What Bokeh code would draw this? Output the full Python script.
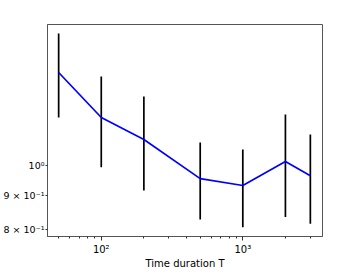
from bokeh.plotting import figure
from bokeh.models import Range1d, FixedTicker
from bokeh.embed import file_html
from bokeh.resources import INLINE

T = [50, 100, 200, 500, 1000, 2000, 3000]
mean = [1.388, 1.185, 1.097, 0.956, 0.933, 1.015, 0.966]
lower = [1.185, 0.995, 0.917, 0.828, 0.806, 0.835, 0.816]
upper = [1.592, 1.369, 1.276, 1.085, 1.059, 1.197, 1.116]

x_major = [100, 1000]
x_minor = [50, 60, 70, 80, 90, 200, 300, 400, 500, 600, 700, 800, 900, 2000, 3000]
x_labels = {100: "10²", 1000: "10³"}
y_ticks = [0.8, 0.9, 1.0]
y_labels = {0.8: "8 × 10⁻¹", 0.9: "9 × 10⁻¹", 1.0: "10⁰"}
xlabel = "Time duration T"

p = figure(width=346, height=277, x_axis_type="log", y_axis_type="log",
           x_range=Range1d(41.7, 3656), y_range=Range1d(0.78, 1.643),
           output_backend="svg", toolbar_location=None,
           min_border_left=46, min_border_right=24, min_border_top=24, min_border_bottom=41)
p.grid.visible = False
p.outline_line_color = "#555555"
p.outline_line_width = 1

p.segment(x0=T, y0=lower, x1=T, y1=upper, line_color="black", line_width=1.7)
p.line(T, mean, line_color="#0000ff", line_width=1.7)

p.xaxis.ticker = FixedTicker(ticks=x_major, minor_ticks=x_minor)
p.xaxis.major_label_overrides = x_labels
p.yaxis.ticker = FixedTicker(ticks=y_ticks, minor_ticks=[])
p.yaxis.major_label_overrides = y_labels
p.xaxis.axis_label = xlabel

for ax in (p.xaxis[0], p.yaxis[0]):
    ax.axis_line_color = "#555555"
    ax.major_tick_line_color = "#333333"
    ax.minor_tick_line_color = "#333333"
    ax.major_tick_out = 4
    ax.major_tick_in = 0
    ax.minor_tick_out = 2
    ax.minor_tick_in = 0
    ax.major_label_text_font = "DejaVu Sans"
    ax.major_label_text_font_size = "10px"
    ax.major_label_text_color = "black"
    ax.major_label_standoff = 3
p.yaxis.major_tick_out = 2
p.yaxis.major_label_standoff = 1
p.yaxis.major_label_text_font_size = "9.5px"
p.xaxis.axis_label_text_font = "DejaVu Sans"
p.xaxis.axis_label_text_font_size = "10px"
p.xaxis.axis_label_text_font_style = "normal"
p.xaxis.axis_label_text_color = "black"
p.xaxis.axis_label_standoff = 0

open("out.html", "w").write(file_html(p, INLINE))
